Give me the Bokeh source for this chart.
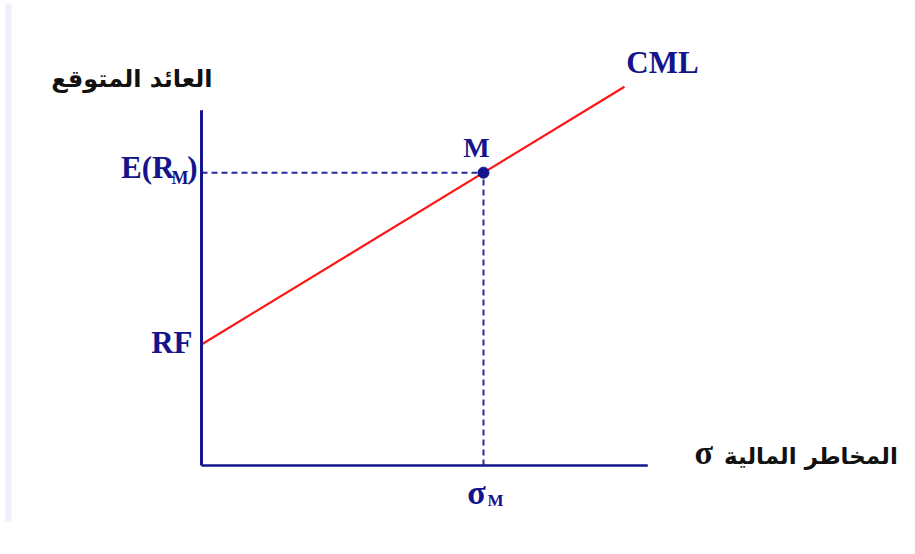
from bokeh.plotting import figure
from bokeh.models import Range1d, BoxAnnotation
from bokeh.core.properties import value
from bokeh.embed import file_html
from bokeh.resources import INLINE

# ---- data (chart units) ----
rf = 2.0            # risk-free return
sigma_m = 4.0       # market risk
erm = 4.84          # expected market return
cml_x = [0.0, 6.0]  # CML drawn from sigma = 0 to 6
x_axis_end = 6.33
y_axis_top = 5.87

y_title = "العائد المتوقع"
x_title = "المخاطر المالية"

slope = (erm - rf) / sigma_m
cml_y = [rf + slope * x for x in cml_x]

# ---- layout scale ----
W, H = 899, 538
px_x = 70.5   # pixels per x unit
px_y = 60.5   # pixels per y unit
x0_px = 201   # frame px of x=0
y0_px = 73    # frame px (from bottom) of y=0
xs = -x0_px / px_x
ys = -y0_px / px_y

p = figure(width=W, height=H, output_backend="svg", toolbar_location=None,
           x_range=Range1d(xs, (W - x0_px) / px_x),
           y_range=Range1d(ys, (H - y0_px) / px_y),
           x_axis_location=None, y_axis_location=None,
           min_border_left=0, min_border_right=0,
           min_border_top=0, min_border_bottom=0)
p.grid.visible = False
p.outline_line_color = None
p.border_fill_color = "white"
p.background_fill_color = "white"

# faint page strip at the left edge
p.add_layout(BoxAnnotation(left=xs + 5 / px_x, right=xs + 11 / px_x,
                           bottom=ys + 17 / px_y, top=ys + 535 / px_y,
                           fill_color="#eef0fa", fill_alpha=1, line_color=None,
                           level="underlay"))

navy = "#14148c"
dash_col = "#2a2aa0"
serif = value("Liberation Serif")
arabic = value("DejaVu Sans")

# dashed guides
p.line([0, sigma_m], [erm, erm], line_color=dash_col, line_width=2, line_dash="6 4")
p.line([sigma_m, sigma_m], [0, erm], line_color=dash_col, line_width=2, line_dash="6 4")

# CML
p.line(cml_x, cml_y, line_color="#ff1414", line_width=2.2)

# axes
p.line([0, 0], [0, y_axis_top], line_color=navy, line_width=3)
p.line([0, x_axis_end], [0, 0], line_color=navy, line_width=2.5)

# market point
p.scatter([sigma_m], [erm], size=11, color=navy)

# labels
p.text([cml_x[1]], [cml_y[1]], text=["CML"], text_font=serif, text_font_style="bold",
       text_font_size="31px", text_color=navy, text_align="center",
       text_baseline="middle", x_offset=38, y_offset=-24)
p.text([sigma_m], [erm], text=["M"], text_font=serif, text_font_style="bold",
       text_font_size="28px", text_color=navy, text_align="center",
       text_baseline="middle", x_offset=-7, y_offset=-25)
p.text([0], [rf], text=["RF"], text_font=serif, text_font_style="bold",
       text_font_size="31px", text_color=navy, text_align="right",
       text_baseline="middle", x_offset=-9, y_offset=-2)

# E(R_M)
p.text([0], [erm], text=["E(R"], text_font=serif, text_font_style="bold",
       text_font_size="31px", text_color=navy, text_align="right",
       text_baseline="middle", x_offset=-27, y_offset=-5)
p.text([0], [erm], text=["M"], text_font=serif, text_font_style="bold",
       text_font_size="18px", text_color=navy, text_align="right",
       text_baseline="middle", x_offset=-13, y_offset=5)
p.text([0], [erm], text=[")"], text_font=serif, text_font_style="bold",
       text_font_size="31px", text_color=navy, text_align="right",
       text_baseline="middle", x_offset=-4, y_offset=-5)

# sigma_M
p.text([sigma_m], [0], text=["σ"], text_font=serif, text_font_style="bold",
       text_font_size="34px", text_color=navy, text_align="center",
       text_baseline="middle", x_offset=-7, y_offset=27)
p.text([sigma_m], [0], text=["M"], text_font=serif, text_font_style="bold",
       text_font_size="17px", text_color=navy, text_align="center",
       text_baseline="middle", x_offset=12, y_offset=35)

# axis titles (Arabic)
p.text([0], [y_axis_top], text=[y_title], text_font=arabic, text_font_style="bold",
       text_font_size="24px", text_color="#111111", text_align="right",
       text_baseline="middle", x_offset=11, y_offset=-31)
p.text([x_axis_end], [0], text=[x_title], text_font=arabic, text_font_style="bold",
       text_font_size="23px", text_color="#111111", text_align="right",
       text_baseline="middle", x_offset=250, y_offset=-10)
p.text([x_axis_end], [0], text=["σ"], text_font=serif, text_font_style="bold",
       text_font_size="34px", text_color="#111111", text_align="center",
       text_baseline="middle", x_offset=56, y_offset=-13)

open("out.html", "w").write(file_html(p, INLINE))
